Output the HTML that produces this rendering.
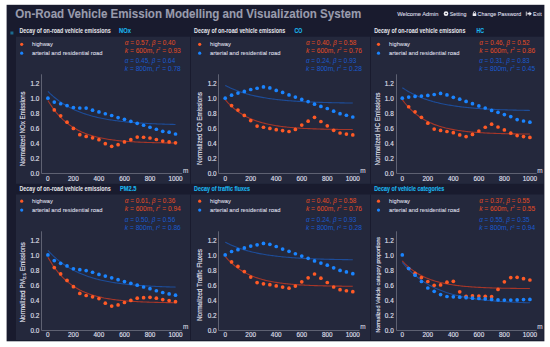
<!DOCTYPE html>
<html><head><meta charset="utf-8"><style>
html,body{margin:0;padding:0;background:#fff;width:550px;height:347px;overflow:hidden}
svg{display:block}
text{font-family:"Liberation Sans",sans-serif}
</style></head><body>
<svg width="550" height="347" viewBox="0 0 550 347">
<rect x="0" y="0" width="550" height="347" fill="#ffffff"/>
<rect x="6.6" y="4.8" width="537.8" height="336.5" fill="#191b2e"/>
<text x="15.3" y="18.1" font-size="12" fill="#9a9cad" stroke="#9a9cad" stroke-width="0.1" font-weight="bold" textLength="346" lengthAdjust="spacingAndGlyphs">On-Road Vehicle Emission Modelling and Visualization System</text>
<text x="397.2" y="15.5" font-size="6.0" fill="#dedee6" stroke="#dedee6" stroke-width="0.1" textLength="41.3" lengthAdjust="spacingAndGlyphs">Welcome Admin</text>
<circle cx="446" cy="13.7" r="2.35" fill="#ececf2"/><ellipse cx="446.1" cy="13.6" rx="0.9" ry="0.6" fill="#191b2e"/>
<text x="449.8" y="15.5" font-size="6.0" fill="#dedee6" stroke="#dedee6" stroke-width="0.1" textLength="16.7" lengthAdjust="spacingAndGlyphs">Setting</text>
<path d="M473.5 13.4 V12.6 a1.0 1.0 0 0 1 2.0 0 V13.4" stroke="#ececf2" stroke-width="0.8" fill="none"/><rect x="472.7" y="13.3" width="3.6" height="2.7" rx="0.3" fill="#ececf2"/>
<text x="477.6" y="15.5" font-size="6.0" fill="#dedee6" stroke="#dedee6" stroke-width="0.1" textLength="43.6" lengthAdjust="spacingAndGlyphs">Change Password</text>
<path d="M526.3 11.6 v4.2" stroke="#ececf2" stroke-width="0.8"/><path d="M527.4 12.8 h2 v-1.3 l2.5 2.2 l-2.5 2.2 v-1.3 h-2 z" fill="#ececf2"/>
<text x="533" y="15.5" font-size="6.0" fill="#dedee6" stroke="#dedee6" stroke-width="0.1" textLength="8.7" lengthAdjust="spacingAndGlyphs">Exit</text>
<rect x="16" y="36.7" width="527.6" height="147.1" fill="#24283c"/>
<rect x="190" y="36.7" width="1" height="147.1" fill="#191b2e"/>
<rect x="370" y="36.7" width="1" height="147.1" fill="#191b2e"/>
<rect x="16" y="194.5" width="527.6" height="145.5" fill="#24283c"/>
<rect x="190" y="194.5" width="1" height="145.5" fill="#191b2e"/>
<rect x="370" y="194.5" width="1" height="145.5" fill="#191b2e"/>
<rect x="10.4" y="31.5" width="3" height="3" fill="#1b6b90"/>
<text x="19.5" y="33.2" font-size="6.4" fill="#e6e6ec" font-weight="bold" textLength="91.2" lengthAdjust="spacingAndGlyphs">Decay of on-road vehicle emissions</text>
<text x="119.1" y="33.2" font-size="6.4" fill="#1ab8ee" stroke="#1ab8ee" stroke-width="0.1" font-weight="bold" textLength="11.9" lengthAdjust="spacingAndGlyphs">NOx</text>
<circle cx="21.7" cy="44.3" r="1.6" fill="#ff5a26"/>
<circle cx="21.7" cy="53.2" r="1.6" fill="#1a84ff"/>
<text x="32.0" y="46.00" font-size="6.25" fill="#dedfe6" stroke="#dedfe6" stroke-width="0.08" textLength="20.8" lengthAdjust="spacingAndGlyphs">highway</text>
<text x="32.0" y="54.6" font-size="6.25" fill="#dedfe6" stroke="#dedfe6" stroke-width="0.08" textLength="70.4" lengthAdjust="spacingAndGlyphs">arterial and residential road</text>
<text x="124.8" y="44.6" font-size="6.9" fill="#e04b24" stroke="#e04b24" stroke-width="0.02" textLength="50.4" lengthAdjust="spacingAndGlyphs"><tspan font-style="italic">α</tspan> = 0.57, <tspan font-style="italic">β</tspan> = 0.40</text>
<text x="124.8" y="52.6" font-size="6.9" fill="#e04b24" stroke="#e04b24" stroke-width="0.02" textLength="56" lengthAdjust="spacingAndGlyphs"><tspan font-style="italic">k</tspan> = 600m, <tspan font-style="italic">r</tspan><tspan font-size="4.2" dy="-2.4">2</tspan><tspan dy="2.4"> = 0.93</tspan></text>
<text x="124.8" y="62.5" font-size="6.9" fill="#1a5acc" stroke="#1a5acc" stroke-width="0.02" textLength="50.4" lengthAdjust="spacingAndGlyphs"><tspan font-style="italic">α</tspan> = 0.45, <tspan font-style="italic">β</tspan> = 0.64</text>
<text x="124.8" y="70.6" font-size="6.9" fill="#1a5acc" stroke="#1a5acc" stroke-width="0.02" textLength="56" lengthAdjust="spacingAndGlyphs"><tspan font-style="italic">k</tspan> = 800m, <tspan font-style="italic">r</tspan><tspan font-size="4.2" dy="-2.4">2</tspan><tspan dy="2.4"> = 0.78</tspan></text>
<path d="M41.5 74.3 V173.5 H182.2" stroke="#5e6172" stroke-width="1" fill="none"/>
<text x="39.3" y="176.1" font-size="6.4" fill="#dedfe6" stroke="#dedfe6" stroke-width="0.16" text-anchor="end">0.0</text>
<text x="39.3" y="161.1" font-size="6.4" fill="#dedfe6" stroke="#dedfe6" stroke-width="0.16" text-anchor="end">0.2</text>
<text x="39.3" y="146.0" font-size="6.4" fill="#dedfe6" stroke="#dedfe6" stroke-width="0.16" text-anchor="end">0.4</text>
<text x="39.3" y="131.0" font-size="6.4" fill="#dedfe6" stroke="#dedfe6" stroke-width="0.16" text-anchor="end">0.6</text>
<text x="39.3" y="115.9" font-size="6.4" fill="#dedfe6" stroke="#dedfe6" stroke-width="0.16" text-anchor="end">0.8</text>
<text x="39.3" y="100.9" font-size="6.4" fill="#dedfe6" stroke="#dedfe6" stroke-width="0.16" text-anchor="end">1.0</text>
<text x="39.3" y="85.9" font-size="6.4" fill="#dedfe6" stroke="#dedfe6" stroke-width="0.16" text-anchor="end">1.2</text>
<text x="47.9" y="180.5" font-size="6.4" fill="#dedfe6" stroke="#dedfe6" stroke-width="0.16" text-anchor="middle">0</text>
<text x="73.4" y="180.5" font-size="6.4" fill="#dedfe6" stroke="#dedfe6" stroke-width="0.16" text-anchor="middle">200</text>
<text x="98.9" y="180.5" font-size="6.4" fill="#dedfe6" stroke="#dedfe6" stroke-width="0.16" text-anchor="middle">400</text>
<text x="124.5" y="180.5" font-size="6.4" fill="#dedfe6" stroke="#dedfe6" stroke-width="0.16" text-anchor="middle">600</text>
<text x="150.0" y="180.5" font-size="6.4" fill="#dedfe6" stroke="#dedfe6" stroke-width="0.16" text-anchor="middle">800</text>
<text x="175.5" y="180.5" font-size="6.4" fill="#dedfe6" stroke="#dedfe6" stroke-width="0.16" text-anchor="middle">1000</text>
<text x="182.9" y="172.7" font-size="6.6" fill="#dcdce4" stroke="#dcdce4" stroke-width="0.08" textLength="5.4" lengthAdjust="spacingAndGlyphs">m</text>
<text x="0" y="0" font-size="6.5" fill="#dedfe6" stroke="#dedfe6" stroke-width="0.16" textLength="75.0" lengthAdjust="spacingAndGlyphs" transform="translate(25.4,166.3) rotate(-90)">Normalized NOx Emissions</text>
<polyline points="47.90,100.46 49.18,102.55 50.45,104.54 51.73,106.43 53.00,108.23 54.28,109.94 55.56,111.57 56.83,113.11 58.11,114.59 59.38,115.99 60.66,117.32 61.94,118.59 63.21,119.80 64.49,120.94 65.76,122.03 67.04,123.07 68.32,124.06 69.59,125.00 70.87,125.89 72.14,126.74 73.42,127.55 74.70,128.32 75.97,129.05 77.25,129.75 78.52,130.41 79.80,131.04 81.08,131.64 82.35,132.21 83.63,132.75 84.90,133.27 86.18,133.76 87.46,134.22 88.73,134.67 90.01,135.09 91.28,135.49 92.56,135.87 93.84,136.23 95.11,136.58 96.39,136.91 97.66,137.22 98.94,137.52 100.22,137.80 101.49,138.07 102.77,138.33 104.04,138.57 105.32,138.80 106.60,139.02 107.87,139.23 109.15,139.43 110.42,139.62 111.70,139.80 112.98,139.97 114.25,140.14 115.53,140.29 116.80,140.44 118.08,140.58 119.36,140.71 120.63,140.84 121.91,140.96 123.18,141.08 124.46,141.19 125.74,141.29 127.01,141.39 128.29,141.48 129.56,141.57 130.84,141.66 132.12,141.74 133.39,141.82 134.67,141.89 135.94,141.96 137.22,142.03 138.50,142.09 139.77,142.15 141.05,142.21 142.32,142.26 143.60,142.31 144.88,142.36 146.15,142.41 147.43,142.45 148.70,142.49 149.98,142.53 151.26,142.57 152.53,142.61 153.81,142.64 155.08,142.68 156.36,142.71 157.64,142.74 158.91,142.77 160.19,142.79 161.46,142.82 162.74,142.84 164.02,142.87 165.29,142.89 166.57,142.91 167.84,142.93 169.12,142.95 170.40,142.97 171.67,142.98 172.95,143.00 174.22,143.02 175.50,143.03" stroke="#a63628" stroke-width="1.1" fill="none"/>
<polyline points="47.90,91.43 49.18,92.68 50.45,93.88 51.73,95.03 53.00,96.15 54.28,97.22 55.56,98.25 56.83,99.24 58.11,100.20 59.38,101.13 60.66,102.01 61.94,102.87 63.21,103.69 64.49,104.49 65.76,105.25 67.04,105.99 68.32,106.70 69.59,107.38 70.87,108.04 72.14,108.68 73.42,109.29 74.70,109.88 75.97,110.44 77.25,110.99 78.52,111.51 79.80,112.02 81.08,112.51 82.35,112.98 83.63,113.43 84.90,113.87 86.18,114.29 87.46,114.69 88.73,115.08 90.01,115.45 91.28,115.82 92.56,116.16 93.84,116.50 95.11,116.82 96.39,117.13 97.66,117.43 98.94,117.72 100.22,118.00 101.49,118.27 102.77,118.52 104.04,118.77 105.32,119.01 106.60,119.24 107.87,119.46 109.15,119.68 110.42,119.88 111.70,120.08 112.98,120.27 114.25,120.46 115.53,120.63 116.80,120.81 118.08,120.97 119.36,121.13 120.63,121.28 121.91,121.43 123.18,121.57 124.46,121.71 125.74,121.84 127.01,121.96 128.29,122.08 129.56,122.20 130.84,122.32 132.12,122.42 133.39,122.53 134.67,122.63 135.94,122.73 137.22,122.82 138.50,122.91 139.77,123.00 141.05,123.08 142.32,123.16 143.60,123.24 144.88,123.31 146.15,123.39 147.43,123.46 148.70,123.52 149.98,123.59 151.26,123.65 152.53,123.71 153.81,123.77 155.08,123.82 156.36,123.88 157.64,123.93 158.91,123.98 160.19,124.02 161.46,124.07 162.74,124.11 164.02,124.16 165.29,124.20 166.57,124.24 167.84,124.28 169.12,124.31 170.40,124.35 171.67,124.38 172.95,124.41 174.22,124.45 175.50,124.48" stroke="#1d4c98" stroke-width="1.1" fill="none"/>
<circle cx="54.28" cy="109.93" r="1.85" fill="#ff5a26"/>
<circle cx="60.66" cy="115.87" r="1.85" fill="#ff5a26"/>
<circle cx="67.04" cy="122.19" r="1.85" fill="#ff5a26"/>
<circle cx="73.42" cy="128.43" r="1.85" fill="#ff5a26"/>
<circle cx="79.80" cy="134.67" r="1.85" fill="#ff5a26"/>
<circle cx="86.18" cy="136.40" r="1.85" fill="#ff5a26"/>
<circle cx="92.56" cy="137.83" r="1.85" fill="#ff5a26"/>
<circle cx="98.94" cy="139.71" r="1.85" fill="#ff5a26"/>
<circle cx="105.32" cy="143.70" r="1.85" fill="#ff5a26"/>
<circle cx="111.70" cy="146.33" r="1.85" fill="#ff5a26"/>
<circle cx="118.08" cy="144.67" r="1.85" fill="#ff5a26"/>
<circle cx="124.46" cy="141.89" r="1.85" fill="#ff5a26"/>
<circle cx="130.84" cy="139.71" r="1.85" fill="#ff5a26"/>
<circle cx="137.22" cy="137.08" r="1.85" fill="#ff5a26"/>
<circle cx="143.60" cy="137.23" r="1.85" fill="#ff5a26"/>
<circle cx="149.98" cy="137.98" r="1.85" fill="#ff5a26"/>
<circle cx="156.36" cy="139.48" r="1.85" fill="#ff5a26"/>
<circle cx="162.74" cy="141.06" r="1.85" fill="#ff5a26"/>
<circle cx="169.12" cy="141.89" r="1.85" fill="#ff5a26"/>
<circle cx="175.50" cy="142.79" r="1.85" fill="#ff5a26"/>
<circle cx="47.90" cy="98.20" r="1.85" fill="#1a84ff"/>
<circle cx="54.28" cy="102.04" r="1.85" fill="#1a84ff"/>
<circle cx="60.66" cy="103.76" r="1.85" fill="#1a84ff"/>
<circle cx="67.04" cy="105.57" r="1.85" fill="#1a84ff"/>
<circle cx="73.42" cy="107.52" r="1.85" fill="#1a84ff"/>
<circle cx="79.80" cy="107.98" r="1.85" fill="#1a84ff"/>
<circle cx="86.18" cy="108.05" r="1.85" fill="#1a84ff"/>
<circle cx="92.56" cy="110.16" r="1.85" fill="#1a84ff"/>
<circle cx="98.94" cy="111.89" r="1.85" fill="#1a84ff"/>
<circle cx="105.32" cy="113.77" r="1.85" fill="#1a84ff"/>
<circle cx="111.70" cy="115.50" r="1.85" fill="#1a84ff"/>
<circle cx="118.08" cy="117.53" r="1.85" fill="#1a84ff"/>
<circle cx="124.46" cy="119.33" r="1.85" fill="#1a84ff"/>
<circle cx="130.84" cy="121.29" r="1.85" fill="#1a84ff"/>
<circle cx="137.22" cy="123.32" r="1.85" fill="#1a84ff"/>
<circle cx="143.60" cy="125.27" r="1.85" fill="#1a84ff"/>
<circle cx="149.98" cy="127.23" r="1.85" fill="#1a84ff"/>
<circle cx="156.36" cy="129.26" r="1.85" fill="#1a84ff"/>
<circle cx="162.74" cy="131.36" r="1.85" fill="#1a84ff"/>
<circle cx="169.12" cy="132.19" r="1.85" fill="#1a84ff"/>
<circle cx="175.50" cy="134.00" r="1.85" fill="#1a84ff"/>
<text x="194.1" y="33.2" font-size="6.4" fill="#e6e6ec" font-weight="bold" textLength="91.2" lengthAdjust="spacingAndGlyphs">Decay of on-road vehicle emissions</text>
<text x="294.5" y="33.2" font-size="6.4" fill="#1ab8ee" stroke="#1ab8ee" stroke-width="0.1" font-weight="bold" textLength="7.8" lengthAdjust="spacingAndGlyphs">CO</text>
<circle cx="199.7" cy="44.3" r="1.6" fill="#ff5a26"/>
<circle cx="199.7" cy="53.2" r="1.6" fill="#1a84ff"/>
<text x="210.0" y="46.00" font-size="6.25" fill="#dedfe6" stroke="#dedfe6" stroke-width="0.08" textLength="20.8" lengthAdjust="spacingAndGlyphs">highway</text>
<text x="210.0" y="54.6" font-size="6.25" fill="#dedfe6" stroke="#dedfe6" stroke-width="0.08" textLength="70.4" lengthAdjust="spacingAndGlyphs">arterial and residential road</text>
<text x="305.9" y="44.6" font-size="6.9" fill="#e04b24" stroke="#e04b24" stroke-width="0.02" textLength="50.4" lengthAdjust="spacingAndGlyphs"><tspan font-style="italic">α</tspan> = 0.40, <tspan font-style="italic">β</tspan> = 0.58</text>
<text x="305.9" y="52.6" font-size="6.9" fill="#e04b24" stroke="#e04b24" stroke-width="0.02" textLength="56" lengthAdjust="spacingAndGlyphs"><tspan font-style="italic">k</tspan> = 600m, <tspan font-style="italic">r</tspan><tspan font-size="4.2" dy="-2.4">2</tspan><tspan dy="2.4"> = 0.76</tspan></text>
<text x="305.9" y="62.5" font-size="6.9" fill="#1a5acc" stroke="#1a5acc" stroke-width="0.02" textLength="50.4" lengthAdjust="spacingAndGlyphs"><tspan font-style="italic">α</tspan> = 0.24, <tspan font-style="italic">β</tspan> = 0.93</text>
<text x="305.9" y="70.6" font-size="6.9" fill="#1a5acc" stroke="#1a5acc" stroke-width="0.02" textLength="56" lengthAdjust="spacingAndGlyphs"><tspan font-style="italic">k</tspan> = 800m, <tspan font-style="italic">r</tspan><tspan font-size="4.2" dy="-2.4">2</tspan><tspan dy="2.4"> = 0.28</tspan></text>
<path d="M218.5 74.3 V173.5 H359.5" stroke="#5e6172" stroke-width="1" fill="none"/>
<text x="216.6" y="176.1" font-size="6.4" fill="#dedfe6" stroke="#dedfe6" stroke-width="0.16" text-anchor="end">0.0</text>
<text x="216.6" y="161.1" font-size="6.4" fill="#dedfe6" stroke="#dedfe6" stroke-width="0.16" text-anchor="end">0.2</text>
<text x="216.6" y="146.0" font-size="6.4" fill="#dedfe6" stroke="#dedfe6" stroke-width="0.16" text-anchor="end">0.4</text>
<text x="216.6" y="131.0" font-size="6.4" fill="#dedfe6" stroke="#dedfe6" stroke-width="0.16" text-anchor="end">0.6</text>
<text x="216.6" y="115.9" font-size="6.4" fill="#dedfe6" stroke="#dedfe6" stroke-width="0.16" text-anchor="end">0.8</text>
<text x="216.6" y="100.9" font-size="6.4" fill="#dedfe6" stroke="#dedfe6" stroke-width="0.16" text-anchor="end">1.0</text>
<text x="216.6" y="85.9" font-size="6.4" fill="#dedfe6" stroke="#dedfe6" stroke-width="0.16" text-anchor="end">1.2</text>
<text x="225.2" y="180.5" font-size="6.4" fill="#dedfe6" stroke="#dedfe6" stroke-width="0.16" text-anchor="middle">0</text>
<text x="250.7" y="180.5" font-size="6.4" fill="#dedfe6" stroke="#dedfe6" stroke-width="0.16" text-anchor="middle">200</text>
<text x="276.2" y="180.5" font-size="6.4" fill="#dedfe6" stroke="#dedfe6" stroke-width="0.16" text-anchor="middle">400</text>
<text x="301.8" y="180.5" font-size="6.4" fill="#dedfe6" stroke="#dedfe6" stroke-width="0.16" text-anchor="middle">600</text>
<text x="327.3" y="180.5" font-size="6.4" fill="#dedfe6" stroke="#dedfe6" stroke-width="0.16" text-anchor="middle">800</text>
<text x="352.8" y="180.5" font-size="6.4" fill="#dedfe6" stroke="#dedfe6" stroke-width="0.16" text-anchor="middle">1000</text>
<text x="360.2" y="172.7" font-size="6.6" fill="#dcdce4" stroke="#dcdce4" stroke-width="0.08" textLength="5.4" lengthAdjust="spacingAndGlyphs">m</text>
<text x="0" y="0" font-size="6.5" fill="#dedfe6" stroke="#dedfe6" stroke-width="0.16" textLength="72.9" lengthAdjust="spacingAndGlyphs" transform="translate(202.2,165.1) rotate(-90)">Normalized CO Emissions</text>
<polyline points="225.20,99.70 226.48,101.17 227.75,102.57 229.03,103.89 230.30,105.16 231.58,106.36 232.86,107.50 234.13,108.59 235.41,109.62 236.68,110.60 237.96,111.54 239.24,112.43 240.51,113.28 241.79,114.08 243.06,114.85 244.34,115.58 245.62,116.27 246.89,116.93 248.17,117.55 249.44,118.15 250.72,118.72 252.00,119.26 253.27,119.77 254.55,120.26 255.82,120.72 257.10,121.17 258.38,121.59 259.65,121.99 260.93,122.37 262.20,122.73 263.48,123.07 264.76,123.40 266.03,123.71 267.31,124.01 268.58,124.29 269.86,124.56 271.14,124.81 272.41,125.05 273.69,125.28 274.96,125.50 276.24,125.71 277.52,125.91 278.79,126.10 280.07,126.28 281.34,126.45 282.62,126.61 283.90,126.77 285.17,126.92 286.45,127.06 287.72,127.19 289.00,127.31 290.28,127.44 291.55,127.55 292.83,127.66 294.10,127.76 295.38,127.86 296.66,127.95 297.93,128.04 299.21,128.13 300.48,128.21 301.76,128.29 303.04,128.36 304.31,128.43 305.59,128.50 306.86,128.56 308.14,128.62 309.42,128.67 310.69,128.73 311.97,128.78 313.24,128.83 314.52,128.88 315.80,128.92 317.07,128.96 318.35,129.00 319.62,129.04 320.90,129.08 322.18,129.11 323.45,129.14 324.73,129.18 326.00,129.20 327.28,129.23 328.56,129.26 329.83,129.29 331.11,129.31 332.38,129.33 333.66,129.35 334.94,129.38 336.21,129.40 337.49,129.41 338.76,129.43 340.04,129.45 341.32,129.47 342.59,129.48 343.87,129.50 345.14,129.51 346.42,129.52 347.70,129.54 348.97,129.55 350.25,129.56 351.52,129.57 352.80,129.58" stroke="#a63628" stroke-width="1.1" fill="none"/>
<polyline points="225.20,85.42 226.48,86.08 227.75,86.72 229.03,87.34 230.30,87.93 231.58,88.50 232.86,89.05 234.13,89.58 235.41,90.09 236.68,90.59 237.96,91.06 239.24,91.52 240.51,91.96 241.79,92.38 243.06,92.79 244.34,93.18 245.62,93.56 246.89,93.92 248.17,94.27 249.44,94.61 250.72,94.94 252.00,95.25 253.27,95.55 254.55,95.85 255.82,96.13 257.10,96.40 258.38,96.66 259.65,96.91 260.93,97.15 262.20,97.38 263.48,97.60 264.76,97.82 266.03,98.03 267.31,98.23 268.58,98.42 269.86,98.61 271.14,98.79 272.41,98.96 273.69,99.12 274.96,99.28 276.24,99.44 277.52,99.59 278.79,99.73 280.07,99.87 281.34,100.00 282.62,100.13 283.90,100.25 285.17,100.37 286.45,100.48 287.72,100.59 289.00,100.70 290.28,100.80 291.55,100.90 292.83,100.99 294.10,101.08 295.38,101.17 296.66,101.25 297.93,101.34 299.21,101.41 300.48,101.49 301.76,101.56 303.04,101.63 304.31,101.70 305.59,101.76 306.86,101.83 308.14,101.89 309.42,101.95 310.69,102.00 311.97,102.05 313.24,102.11 314.52,102.16 315.80,102.20 317.07,102.25 318.35,102.30 319.62,102.34 320.90,102.38 322.18,102.42 323.45,102.46 324.73,102.50 326.00,102.53 327.28,102.57 328.56,102.60 329.83,102.63 331.11,102.66 332.38,102.69 333.66,102.72 334.94,102.75 336.21,102.77 337.49,102.80 338.76,102.82 340.04,102.85 341.32,102.87 342.59,102.89 343.87,102.91 345.14,102.93 346.42,102.95 347.70,102.97 348.97,102.99 350.25,103.01 351.52,103.02 352.80,103.04" stroke="#1d4c98" stroke-width="1.1" fill="none"/>
<circle cx="231.58" cy="105.57" r="1.85" fill="#ff5a26"/>
<circle cx="237.96" cy="110.08" r="1.85" fill="#ff5a26"/>
<circle cx="244.34" cy="115.42" r="1.85" fill="#ff5a26"/>
<circle cx="250.72" cy="120.61" r="1.85" fill="#ff5a26"/>
<circle cx="257.10" cy="126.10" r="1.85" fill="#ff5a26"/>
<circle cx="263.48" cy="127.23" r="1.85" fill="#ff5a26"/>
<circle cx="269.86" cy="128.43" r="1.85" fill="#ff5a26"/>
<circle cx="276.24" cy="129.63" r="1.85" fill="#ff5a26"/>
<circle cx="282.62" cy="130.61" r="1.85" fill="#ff5a26"/>
<circle cx="289.00" cy="131.51" r="1.85" fill="#ff5a26"/>
<circle cx="295.38" cy="129.41" r="1.85" fill="#ff5a26"/>
<circle cx="301.76" cy="125.12" r="1.85" fill="#ff5a26"/>
<circle cx="308.14" cy="121.14" r="1.85" fill="#ff5a26"/>
<circle cx="314.52" cy="117.30" r="1.85" fill="#ff5a26"/>
<circle cx="320.90" cy="121.51" r="1.85" fill="#ff5a26"/>
<circle cx="327.28" cy="125.80" r="1.85" fill="#ff5a26"/>
<circle cx="333.66" cy="130.31" r="1.85" fill="#ff5a26"/>
<circle cx="340.04" cy="133.02" r="1.85" fill="#ff5a26"/>
<circle cx="346.42" cy="134.07" r="1.85" fill="#ff5a26"/>
<circle cx="352.80" cy="134.97" r="1.85" fill="#ff5a26"/>
<circle cx="225.20" cy="98.20" r="1.85" fill="#1a84ff"/>
<circle cx="231.58" cy="95.19" r="1.85" fill="#1a84ff"/>
<circle cx="237.96" cy="93.09" r="1.85" fill="#1a84ff"/>
<circle cx="244.34" cy="91.43" r="1.85" fill="#1a84ff"/>
<circle cx="250.72" cy="89.48" r="1.85" fill="#1a84ff"/>
<circle cx="257.10" cy="88.27" r="1.85" fill="#1a84ff"/>
<circle cx="263.48" cy="86.92" r="1.85" fill="#1a84ff"/>
<circle cx="269.86" cy="87.90" r="1.85" fill="#1a84ff"/>
<circle cx="276.24" cy="90.38" r="1.85" fill="#1a84ff"/>
<circle cx="282.62" cy="92.41" r="1.85" fill="#1a84ff"/>
<circle cx="289.00" cy="94.89" r="1.85" fill="#1a84ff"/>
<circle cx="295.38" cy="97.07" r="1.85" fill="#1a84ff"/>
<circle cx="301.76" cy="99.40" r="1.85" fill="#1a84ff"/>
<circle cx="308.14" cy="101.58" r="1.85" fill="#1a84ff"/>
<circle cx="314.52" cy="104.22" r="1.85" fill="#1a84ff"/>
<circle cx="320.90" cy="106.40" r="1.85" fill="#1a84ff"/>
<circle cx="327.28" cy="108.50" r="1.85" fill="#1a84ff"/>
<circle cx="333.66" cy="111.13" r="1.85" fill="#1a84ff"/>
<circle cx="340.04" cy="113.69" r="1.85" fill="#1a84ff"/>
<circle cx="346.42" cy="115.27" r="1.85" fill="#1a84ff"/>
<circle cx="352.80" cy="117.00" r="1.85" fill="#1a84ff"/>
<text x="374.2" y="33.2" font-size="6.4" fill="#e6e6ec" font-weight="bold" textLength="91.2" lengthAdjust="spacingAndGlyphs">Decay of on-road vehicle emissions</text>
<text x="476.6" y="33.2" font-size="6.4" fill="#1ab8ee" stroke="#1ab8ee" stroke-width="0.1" font-weight="bold" textLength="7.4" lengthAdjust="spacingAndGlyphs">HC</text>
<circle cx="378.5" cy="44.3" r="1.6" fill="#ff5a26"/>
<circle cx="378.5" cy="53.2" r="1.6" fill="#1a84ff"/>
<text x="389.1" y="46.00" font-size="6.25" fill="#dedfe6" stroke="#dedfe6" stroke-width="0.08" textLength="20.8" lengthAdjust="spacingAndGlyphs">highway</text>
<text x="389.1" y="54.6" font-size="6.25" fill="#dedfe6" stroke="#dedfe6" stroke-width="0.08" textLength="70.4" lengthAdjust="spacingAndGlyphs">arterial and residential road</text>
<text x="479.2" y="44.6" font-size="6.9" fill="#e04b24" stroke="#e04b24" stroke-width="0.02" textLength="50.4" lengthAdjust="spacingAndGlyphs"><tspan font-style="italic">α</tspan> = 0.46, <tspan font-style="italic">β</tspan> = 0.52</text>
<text x="479.2" y="52.6" font-size="6.9" fill="#e04b24" stroke="#e04b24" stroke-width="0.02" textLength="56" lengthAdjust="spacingAndGlyphs"><tspan font-style="italic">k</tspan> = 600m, <tspan font-style="italic">r</tspan><tspan font-size="4.2" dy="-2.4">2</tspan><tspan dy="2.4"> = 0.86</tspan></text>
<text x="479.2" y="62.5" font-size="6.9" fill="#1a5acc" stroke="#1a5acc" stroke-width="0.02" textLength="50.4" lengthAdjust="spacingAndGlyphs"><tspan font-style="italic">α</tspan> = 0.31, <tspan font-style="italic">β</tspan> = 0.83</text>
<text x="479.2" y="70.6" font-size="6.9" fill="#1a5acc" stroke="#1a5acc" stroke-width="0.02" textLength="56" lengthAdjust="spacingAndGlyphs"><tspan font-style="italic">k</tspan> = 800m, <tspan font-style="italic">r</tspan><tspan font-size="4.2" dy="-2.4">2</tspan><tspan dy="2.4"> = 0.45</tspan></text>
<path d="M396.5 74.3 V173.5 H536.6" stroke="#5e6172" stroke-width="1" fill="none"/>
<text x="393.7" y="176.1" font-size="6.4" fill="#dedfe6" stroke="#dedfe6" stroke-width="0.16" text-anchor="end">0.0</text>
<text x="393.7" y="161.1" font-size="6.4" fill="#dedfe6" stroke="#dedfe6" stroke-width="0.16" text-anchor="end">0.2</text>
<text x="393.7" y="146.0" font-size="6.4" fill="#dedfe6" stroke="#dedfe6" stroke-width="0.16" text-anchor="end">0.4</text>
<text x="393.7" y="131.0" font-size="6.4" fill="#dedfe6" stroke="#dedfe6" stroke-width="0.16" text-anchor="end">0.6</text>
<text x="393.7" y="115.9" font-size="6.4" fill="#dedfe6" stroke="#dedfe6" stroke-width="0.16" text-anchor="end">0.8</text>
<text x="393.7" y="100.9" font-size="6.4" fill="#dedfe6" stroke="#dedfe6" stroke-width="0.16" text-anchor="end">1.0</text>
<text x="393.7" y="85.9" font-size="6.4" fill="#dedfe6" stroke="#dedfe6" stroke-width="0.16" text-anchor="end">1.2</text>
<text x="402.3" y="180.5" font-size="6.4" fill="#dedfe6" stroke="#dedfe6" stroke-width="0.16" text-anchor="middle">0</text>
<text x="427.8" y="180.5" font-size="6.4" fill="#dedfe6" stroke="#dedfe6" stroke-width="0.16" text-anchor="middle">200</text>
<text x="453.3" y="180.5" font-size="6.4" fill="#dedfe6" stroke="#dedfe6" stroke-width="0.16" text-anchor="middle">400</text>
<text x="478.9" y="180.5" font-size="6.4" fill="#dedfe6" stroke="#dedfe6" stroke-width="0.16" text-anchor="middle">600</text>
<text x="504.4" y="180.5" font-size="6.4" fill="#dedfe6" stroke="#dedfe6" stroke-width="0.16" text-anchor="middle">800</text>
<text x="529.9" y="180.5" font-size="6.4" fill="#dedfe6" stroke="#dedfe6" stroke-width="0.16" text-anchor="middle">1000</text>
<text x="537.3" y="172.7" font-size="6.6" fill="#dcdce4" stroke="#dcdce4" stroke-width="0.08" textLength="5.4" lengthAdjust="spacingAndGlyphs">m</text>
<text x="0" y="0" font-size="6.5" fill="#dedfe6" stroke="#dedfe6" stroke-width="0.16" textLength="73.0" lengthAdjust="spacingAndGlyphs" transform="translate(380.3,165.5) rotate(-90)">Normalized HC Emissions</text>
<polyline points="402.30,99.70 403.58,101.39 404.85,103.00 406.13,104.52 407.40,105.97 408.68,107.36 409.96,108.67 411.23,109.92 412.51,111.11 413.78,112.24 415.06,113.31 416.34,114.34 417.61,115.31 418.89,116.24 420.16,117.12 421.44,117.96 422.72,118.75 423.99,119.51 425.27,120.23 426.54,120.92 427.82,121.57 429.10,122.19 430.37,122.78 431.65,123.34 432.92,123.88 434.20,124.39 435.48,124.87 436.75,125.33 438.03,125.77 439.30,126.18 440.58,126.58 441.86,126.95 443.13,127.31 444.41,127.65 445.68,127.98 446.96,128.28 448.24,128.58 449.51,128.86 450.79,129.12 452.06,129.37 453.34,129.61 454.62,129.84 455.89,130.06 457.17,130.27 458.44,130.46 459.72,130.65 461.00,130.83 462.27,131.00 463.55,131.16 464.82,131.31 466.10,131.46 467.38,131.59 468.65,131.73 469.93,131.85 471.20,131.97 472.48,132.08 473.76,132.19 475.03,132.30 476.31,132.39 477.58,132.49 478.86,132.57 480.14,132.66 481.41,132.74 482.69,132.81 483.96,132.89 485.24,132.95 486.52,133.02 487.79,133.08 489.07,133.14 490.34,133.20 491.62,133.25 492.90,133.30 494.17,133.35 495.45,133.40 496.72,133.44 498.00,133.48 499.28,133.52 500.55,133.56 501.83,133.60 503.10,133.63 504.38,133.66 505.66,133.69 506.93,133.72 508.21,133.75 509.48,133.78 510.76,133.80 512.04,133.83 513.31,133.85 514.59,133.87 515.86,133.89 517.14,133.91 518.42,133.93 519.69,133.95 520.97,133.97 522.24,133.98 523.52,134.00 524.80,134.01 526.07,134.03 527.35,134.04 528.62,134.05 529.90,134.06" stroke="#a63628" stroke-width="1.1" fill="none"/>
<polyline points="402.30,87.67 403.58,88.53 404.85,89.36 406.13,90.15 407.40,90.92 408.68,91.66 409.96,92.37 411.23,93.05 412.51,93.71 413.78,94.35 415.06,94.96 416.34,95.55 417.61,96.12 418.89,96.67 420.16,97.19 421.44,97.70 422.72,98.19 423.99,98.66 425.27,99.11 426.54,99.55 427.82,99.97 429.10,100.38 430.37,100.77 431.65,101.14 432.92,101.51 434.20,101.85 435.48,102.19 436.75,102.51 438.03,102.83 439.30,103.13 440.58,103.42 441.86,103.69 443.13,103.96 444.41,104.22 445.68,104.47 446.96,104.71 448.24,104.94 449.51,105.16 450.79,105.38 452.06,105.58 453.34,105.78 454.62,105.97 455.89,106.16 457.17,106.34 458.44,106.51 459.72,106.67 461.00,106.83 462.27,106.98 463.55,107.13 464.82,107.27 466.10,107.41 467.38,107.54 468.65,107.67 469.93,107.79 471.20,107.91 472.48,108.02 473.76,108.13 475.03,108.23 476.31,108.34 477.58,108.43 478.86,108.53 480.14,108.62 481.41,108.70 482.69,108.79 483.96,108.87 485.24,108.95 486.52,109.02 487.79,109.09 489.07,109.16 490.34,109.23 491.62,109.30 492.90,109.36 494.17,109.42 495.45,109.47 496.72,109.53 498.00,109.58 499.28,109.64 500.55,109.69 501.83,109.73 503.10,109.78 504.38,109.82 505.66,109.87 506.93,109.91 508.21,109.95 509.48,109.99 510.76,110.02 512.04,110.06 513.31,110.09 514.59,110.12 515.86,110.16 517.14,110.19 518.42,110.22 519.69,110.24 520.97,110.27 522.24,110.30 523.52,110.32 524.80,110.35 526.07,110.37 527.35,110.39 528.62,110.41 529.90,110.44" stroke="#1d4c98" stroke-width="1.1" fill="none"/>
<circle cx="408.68" cy="106.77" r="1.85" fill="#ff5a26"/>
<circle cx="415.06" cy="111.81" r="1.85" fill="#ff5a26"/>
<circle cx="421.44" cy="117.30" r="1.85" fill="#ff5a26"/>
<circle cx="427.82" cy="123.17" r="1.85" fill="#ff5a26"/>
<circle cx="434.20" cy="129.11" r="1.85" fill="#ff5a26"/>
<circle cx="440.58" cy="130.46" r="1.85" fill="#ff5a26"/>
<circle cx="446.96" cy="131.51" r="1.85" fill="#ff5a26"/>
<circle cx="453.34" cy="132.72" r="1.85" fill="#ff5a26"/>
<circle cx="459.72" cy="134.97" r="1.85" fill="#ff5a26"/>
<circle cx="466.10" cy="136.55" r="1.85" fill="#ff5a26"/>
<circle cx="472.48" cy="134.45" r="1.85" fill="#ff5a26"/>
<circle cx="478.86" cy="130.99" r="1.85" fill="#ff5a26"/>
<circle cx="485.24" cy="127.23" r="1.85" fill="#ff5a26"/>
<circle cx="491.62" cy="124.22" r="1.85" fill="#ff5a26"/>
<circle cx="498.00" cy="127.00" r="1.85" fill="#ff5a26"/>
<circle cx="504.38" cy="129.93" r="1.85" fill="#ff5a26"/>
<circle cx="510.76" cy="133.17" r="1.85" fill="#ff5a26"/>
<circle cx="517.14" cy="135.57" r="1.85" fill="#ff5a26"/>
<circle cx="523.52" cy="136.55" r="1.85" fill="#ff5a26"/>
<circle cx="529.90" cy="137.38" r="1.85" fill="#ff5a26"/>
<circle cx="402.30" cy="98.20" r="1.85" fill="#1a84ff"/>
<circle cx="408.68" cy="97.07" r="1.85" fill="#1a84ff"/>
<circle cx="415.06" cy="96.40" r="1.85" fill="#1a84ff"/>
<circle cx="421.44" cy="96.09" r="1.85" fill="#1a84ff"/>
<circle cx="427.82" cy="95.42" r="1.85" fill="#1a84ff"/>
<circle cx="434.20" cy="94.52" r="1.85" fill="#1a84ff"/>
<circle cx="440.58" cy="93.46" r="1.85" fill="#1a84ff"/>
<circle cx="446.96" cy="94.97" r="1.85" fill="#1a84ff"/>
<circle cx="453.34" cy="97.30" r="1.85" fill="#1a84ff"/>
<circle cx="459.72" cy="99.18" r="1.85" fill="#1a84ff"/>
<circle cx="466.10" cy="101.43" r="1.85" fill="#1a84ff"/>
<circle cx="472.48" cy="103.69" r="1.85" fill="#1a84ff"/>
<circle cx="478.86" cy="105.95" r="1.85" fill="#1a84ff"/>
<circle cx="485.24" cy="107.98" r="1.85" fill="#1a84ff"/>
<circle cx="491.62" cy="110.38" r="1.85" fill="#1a84ff"/>
<circle cx="498.00" cy="112.34" r="1.85" fill="#1a84ff"/>
<circle cx="504.38" cy="114.59" r="1.85" fill="#1a84ff"/>
<circle cx="510.76" cy="116.62" r="1.85" fill="#1a84ff"/>
<circle cx="517.14" cy="119.56" r="1.85" fill="#1a84ff"/>
<circle cx="523.52" cy="120.99" r="1.85" fill="#1a84ff"/>
<circle cx="529.90" cy="122.19" r="1.85" fill="#1a84ff"/>
<text x="19.5" y="191.2" font-size="6.4" fill="#e6e6ec" font-weight="bold" textLength="91.2" lengthAdjust="spacingAndGlyphs">Decay of on-road vehicle emissions</text>
<text x="120" y="191.2" font-size="6.4" fill="#1ab8ee" stroke="#1ab8ee" stroke-width="0.1" font-weight="bold" textLength="16.4" lengthAdjust="spacingAndGlyphs">PM2.5</text>
<circle cx="21.7" cy="201.2" r="1.6" fill="#ff5a26"/>
<circle cx="21.7" cy="210.1" r="1.6" fill="#1a84ff"/>
<text x="32.0" y="202.90" font-size="6.25" fill="#dedfe6" stroke="#dedfe6" stroke-width="0.08" textLength="20.8" lengthAdjust="spacingAndGlyphs">highway</text>
<text x="32.0" y="211.5" font-size="6.25" fill="#dedfe6" stroke="#dedfe6" stroke-width="0.08" textLength="70.4" lengthAdjust="spacingAndGlyphs">arterial and residential road</text>
<text x="124.8" y="202.5" font-size="6.9" fill="#e04b24" stroke="#e04b24" stroke-width="0.02" textLength="50.4" lengthAdjust="spacingAndGlyphs"><tspan font-style="italic">α</tspan> = 0.61, <tspan font-style="italic">β</tspan> = 0.36</text>
<text x="124.8" y="210.6" font-size="6.9" fill="#e04b24" stroke="#e04b24" stroke-width="0.02" textLength="56" lengthAdjust="spacingAndGlyphs"><tspan font-style="italic">k</tspan> = 600m, <tspan font-style="italic">r</tspan><tspan font-size="4.2" dy="-2.4">2</tspan><tspan dy="2.4"> = 0.94</tspan></text>
<text x="124.8" y="222.0" font-size="6.9" fill="#1a5acc" stroke="#1a5acc" stroke-width="0.02" textLength="50.4" lengthAdjust="spacingAndGlyphs"><tspan font-style="italic">α</tspan> = 0.50, <tspan font-style="italic">β</tspan> = 0.56</text>
<text x="124.8" y="230.0" font-size="6.9" fill="#1a5acc" stroke="#1a5acc" stroke-width="0.02" textLength="56" lengthAdjust="spacingAndGlyphs"><tspan font-style="italic">k</tspan> = 800m, <tspan font-style="italic">r</tspan><tspan font-size="4.2" dy="-2.4">2</tspan><tspan dy="2.4"> = 0.86</tspan></text>
<path d="M41.5 231.3 V330.5 H182.2" stroke="#5e6172" stroke-width="1" fill="none"/>
<text x="39.3" y="332.8" font-size="6.4" fill="#dedfe6" stroke="#dedfe6" stroke-width="0.16" text-anchor="end">0.0</text>
<text x="39.3" y="317.8" font-size="6.4" fill="#dedfe6" stroke="#dedfe6" stroke-width="0.16" text-anchor="end">0.2</text>
<text x="39.3" y="302.7" font-size="6.4" fill="#dedfe6" stroke="#dedfe6" stroke-width="0.16" text-anchor="end">0.4</text>
<text x="39.3" y="287.7" font-size="6.4" fill="#dedfe6" stroke="#dedfe6" stroke-width="0.16" text-anchor="end">0.6</text>
<text x="39.3" y="272.6" font-size="6.4" fill="#dedfe6" stroke="#dedfe6" stroke-width="0.16" text-anchor="end">0.8</text>
<text x="39.3" y="257.6" font-size="6.4" fill="#dedfe6" stroke="#dedfe6" stroke-width="0.16" text-anchor="end">1.0</text>
<text x="39.3" y="242.6" font-size="6.4" fill="#dedfe6" stroke="#dedfe6" stroke-width="0.16" text-anchor="end">1.2</text>
<text x="47.9" y="337.2" font-size="6.4" fill="#dedfe6" stroke="#dedfe6" stroke-width="0.16" text-anchor="middle">0</text>
<text x="73.4" y="337.2" font-size="6.4" fill="#dedfe6" stroke="#dedfe6" stroke-width="0.16" text-anchor="middle">200</text>
<text x="98.9" y="337.2" font-size="6.4" fill="#dedfe6" stroke="#dedfe6" stroke-width="0.16" text-anchor="middle">400</text>
<text x="124.5" y="337.2" font-size="6.4" fill="#dedfe6" stroke="#dedfe6" stroke-width="0.16" text-anchor="middle">600</text>
<text x="150.0" y="337.2" font-size="6.4" fill="#dedfe6" stroke="#dedfe6" stroke-width="0.16" text-anchor="middle">800</text>
<text x="175.5" y="337.2" font-size="6.4" fill="#dedfe6" stroke="#dedfe6" stroke-width="0.16" text-anchor="middle">1000</text>
<text x="182.9" y="329.4" font-size="6.6" fill="#dcdce4" stroke="#dcdce4" stroke-width="0.08" textLength="5.4" lengthAdjust="spacingAndGlyphs">m</text>
<text x="0" y="0" font-size="6.5" fill="#dedfe6" stroke="#dedfe6" stroke-width="0.16" textLength="80.2" lengthAdjust="spacingAndGlyphs" transform="translate(25.4,322.5) rotate(-90)">Normalized PM<tspan font-size="4.4" dy="0.9">2.5</tspan><tspan dy="-0.9"> Emissions</tspan></text>
<polyline points="47.90,257.16 49.18,259.39 50.45,261.52 51.73,263.55 53.00,265.47 54.28,267.30 55.56,269.05 56.83,270.70 58.11,272.28 59.38,273.78 60.66,275.21 61.94,276.56 63.21,277.85 64.49,279.08 65.76,280.25 67.04,281.36 68.32,282.42 69.59,283.42 70.87,284.38 72.14,285.29 73.42,286.15 74.70,286.98 75.97,287.76 77.25,288.50 78.52,289.21 79.80,289.89 81.08,290.53 82.35,291.14 83.63,291.72 84.90,292.27 86.18,292.79 87.46,293.29 88.73,293.77 90.01,294.22 91.28,294.65 92.56,295.06 93.84,295.45 95.11,295.82 96.39,296.17 97.66,296.50 98.94,296.82 100.22,297.12 101.49,297.41 102.77,297.68 104.04,297.95 105.32,298.19 106.60,298.43 107.87,298.65 109.15,298.87 110.42,299.07 111.70,299.26 112.98,299.45 114.25,299.62 115.53,299.79 116.80,299.95 118.08,300.10 119.36,300.24 120.63,300.37 121.91,300.50 123.18,300.63 124.46,300.74 125.74,300.86 127.01,300.96 128.29,301.06 129.56,301.16 130.84,301.25 132.12,301.34 133.39,301.42 134.67,301.50 135.94,301.57 137.22,301.64 138.50,301.71 139.77,301.77 141.05,301.84 142.32,301.89 143.60,301.95 144.88,302.00 146.15,302.05 147.43,302.10 148.70,302.14 149.98,302.19 151.26,302.23 152.53,302.27 153.81,302.30 155.08,302.34 156.36,302.37 157.64,302.41 158.91,302.44 160.19,302.46 161.46,302.49 162.74,302.52 164.02,302.54 165.29,302.57 166.57,302.59 167.84,302.61 169.12,302.63 170.40,302.65 171.67,302.67 172.95,302.69 174.22,302.70 175.50,302.72" stroke="#a63628" stroke-width="1.1" fill="none"/>
<polyline points="47.90,250.39 49.18,251.77 50.45,253.10 51.73,254.39 53.00,255.63 54.28,256.82 55.56,257.96 56.83,259.07 58.11,260.13 59.38,261.16 60.66,262.15 61.94,263.10 63.21,264.01 64.49,264.90 65.76,265.75 67.04,266.56 68.32,267.35 69.59,268.11 70.87,268.84 72.14,269.55 73.42,270.23 74.70,270.88 75.97,271.51 77.25,272.12 78.52,272.70 79.80,273.26 81.08,273.81 82.35,274.33 83.63,274.83 84.90,275.31 86.18,275.78 87.46,276.23 88.73,276.66 90.01,277.08 91.28,277.48 92.56,277.87 93.84,278.24 95.11,278.60 96.39,278.94 97.66,279.28 98.94,279.60 100.22,279.91 101.49,280.20 102.77,280.49 104.04,280.77 105.32,281.03 106.60,281.29 107.87,281.54 109.15,281.77 110.42,282.00 111.70,282.22 112.98,282.43 114.25,282.64 115.53,282.84 116.80,283.03 118.08,283.21 119.36,283.38 120.63,283.55 121.91,283.72 123.18,283.87 124.46,284.02 125.74,284.17 127.01,284.31 128.29,284.45 129.56,284.58 130.84,284.70 132.12,284.82 133.39,284.94 134.67,285.05 135.94,285.16 137.22,285.26 138.50,285.36 139.77,285.46 141.05,285.55 142.32,285.64 143.60,285.73 144.88,285.81 146.15,285.89 147.43,285.97 148.70,286.04 149.98,286.12 151.26,286.18 152.53,286.25 153.81,286.32 155.08,286.38 156.36,286.44 157.64,286.49 158.91,286.55 160.19,286.60 161.46,286.65 162.74,286.70 164.02,286.75 165.29,286.79 166.57,286.84 167.84,286.88 169.12,286.92 170.40,286.96 171.67,287.00 172.95,287.03 174.22,287.07 175.50,287.10" stroke="#1d4c98" stroke-width="1.1" fill="none"/>
<circle cx="54.28" cy="267.53" r="1.85" fill="#ff5a26"/>
<circle cx="60.66" cy="273.93" r="1.85" fill="#ff5a26"/>
<circle cx="67.04" cy="280.39" r="1.85" fill="#ff5a26"/>
<circle cx="73.42" cy="286.63" r="1.85" fill="#ff5a26"/>
<circle cx="79.80" cy="293.40" r="1.85" fill="#ff5a26"/>
<circle cx="86.18" cy="295.51" r="1.85" fill="#ff5a26"/>
<circle cx="92.56" cy="296.79" r="1.85" fill="#ff5a26"/>
<circle cx="98.94" cy="298.59" r="1.85" fill="#ff5a26"/>
<circle cx="105.32" cy="303.18" r="1.85" fill="#ff5a26"/>
<circle cx="111.70" cy="306.11" r="1.85" fill="#ff5a26"/>
<circle cx="118.08" cy="304.91" r="1.85" fill="#ff5a26"/>
<circle cx="124.46" cy="302.50" r="1.85" fill="#ff5a26"/>
<circle cx="130.84" cy="300.40" r="1.85" fill="#ff5a26"/>
<circle cx="137.22" cy="298.22" r="1.85" fill="#ff5a26"/>
<circle cx="143.60" cy="297.69" r="1.85" fill="#ff5a26"/>
<circle cx="149.98" cy="297.31" r="1.85" fill="#ff5a26"/>
<circle cx="156.36" cy="298.22" r="1.85" fill="#ff5a26"/>
<circle cx="162.74" cy="299.57" r="1.85" fill="#ff5a26"/>
<circle cx="169.12" cy="300.62" r="1.85" fill="#ff5a26"/>
<circle cx="175.50" cy="301.67" r="1.85" fill="#ff5a26"/>
<circle cx="47.90" cy="254.90" r="1.85" fill="#1a84ff"/>
<circle cx="54.28" cy="260.62" r="1.85" fill="#1a84ff"/>
<circle cx="60.66" cy="263.32" r="1.85" fill="#1a84ff"/>
<circle cx="67.04" cy="265.88" r="1.85" fill="#1a84ff"/>
<circle cx="73.42" cy="268.74" r="1.85" fill="#1a84ff"/>
<circle cx="79.80" cy="269.71" r="1.85" fill="#1a84ff"/>
<circle cx="86.18" cy="270.62" r="1.85" fill="#1a84ff"/>
<circle cx="92.56" cy="272.27" r="1.85" fill="#1a84ff"/>
<circle cx="98.94" cy="274.38" r="1.85" fill="#1a84ff"/>
<circle cx="105.32" cy="276.11" r="1.85" fill="#1a84ff"/>
<circle cx="111.70" cy="277.84" r="1.85" fill="#1a84ff"/>
<circle cx="118.08" cy="279.72" r="1.85" fill="#1a84ff"/>
<circle cx="124.46" cy="281.60" r="1.85" fill="#1a84ff"/>
<circle cx="130.84" cy="283.33" r="1.85" fill="#1a84ff"/>
<circle cx="137.22" cy="285.21" r="1.85" fill="#1a84ff"/>
<circle cx="143.60" cy="287.01" r="1.85" fill="#1a84ff"/>
<circle cx="149.98" cy="288.66" r="1.85" fill="#1a84ff"/>
<circle cx="156.36" cy="290.77" r="1.85" fill="#1a84ff"/>
<circle cx="162.74" cy="292.50" r="1.85" fill="#1a84ff"/>
<circle cx="169.12" cy="293.93" r="1.85" fill="#1a84ff"/>
<circle cx="175.50" cy="295.13" r="1.85" fill="#1a84ff"/>
<text x="194.1" y="191.2" font-size="6.4" fill="#1ab8ee" stroke="#1ab8ee" stroke-width="0.1" font-weight="bold" textLength="56" lengthAdjust="spacingAndGlyphs">Decay of traffic fluxes</text>
<circle cx="199.7" cy="201.2" r="1.6" fill="#ff5a26"/>
<circle cx="199.7" cy="210.1" r="1.6" fill="#1a84ff"/>
<text x="210.0" y="202.90" font-size="6.25" fill="#dedfe6" stroke="#dedfe6" stroke-width="0.08" textLength="20.8" lengthAdjust="spacingAndGlyphs">highway</text>
<text x="210.0" y="211.5" font-size="6.25" fill="#dedfe6" stroke="#dedfe6" stroke-width="0.08" textLength="70.4" lengthAdjust="spacingAndGlyphs">arterial and residential road</text>
<text x="305.9" y="202.5" font-size="6.9" fill="#e04b24" stroke="#e04b24" stroke-width="0.02" textLength="50.4" lengthAdjust="spacingAndGlyphs"><tspan font-style="italic">α</tspan> = 0.40, <tspan font-style="italic">β</tspan> = 0.58</text>
<text x="305.9" y="210.6" font-size="6.9" fill="#e04b24" stroke="#e04b24" stroke-width="0.02" textLength="56" lengthAdjust="spacingAndGlyphs"><tspan font-style="italic">k</tspan> = 600m, <tspan font-style="italic">r</tspan><tspan font-size="4.2" dy="-2.4">2</tspan><tspan dy="2.4"> = 0.76</tspan></text>
<text x="305.9" y="222.0" font-size="6.9" fill="#1a5acc" stroke="#1a5acc" stroke-width="0.02" textLength="50.4" lengthAdjust="spacingAndGlyphs"><tspan font-style="italic">α</tspan> = 0.24, <tspan font-style="italic">β</tspan> = 0.93</text>
<text x="305.9" y="230.0" font-size="6.9" fill="#1a5acc" stroke="#1a5acc" stroke-width="0.02" textLength="56" lengthAdjust="spacingAndGlyphs"><tspan font-style="italic">k</tspan> = 800m, <tspan font-style="italic">r</tspan><tspan font-size="4.2" dy="-2.4">2</tspan><tspan dy="2.4"> = 0.28</tspan></text>
<path d="M218.5 231.3 V330.5 H359.5" stroke="#5e6172" stroke-width="1" fill="none"/>
<text x="216.6" y="332.8" font-size="6.4" fill="#dedfe6" stroke="#dedfe6" stroke-width="0.16" text-anchor="end">0.0</text>
<text x="216.6" y="317.8" font-size="6.4" fill="#dedfe6" stroke="#dedfe6" stroke-width="0.16" text-anchor="end">0.2</text>
<text x="216.6" y="302.7" font-size="6.4" fill="#dedfe6" stroke="#dedfe6" stroke-width="0.16" text-anchor="end">0.4</text>
<text x="216.6" y="287.7" font-size="6.4" fill="#dedfe6" stroke="#dedfe6" stroke-width="0.16" text-anchor="end">0.6</text>
<text x="216.6" y="272.6" font-size="6.4" fill="#dedfe6" stroke="#dedfe6" stroke-width="0.16" text-anchor="end">0.8</text>
<text x="216.6" y="257.6" font-size="6.4" fill="#dedfe6" stroke="#dedfe6" stroke-width="0.16" text-anchor="end">1.0</text>
<text x="216.6" y="242.6" font-size="6.4" fill="#dedfe6" stroke="#dedfe6" stroke-width="0.16" text-anchor="end">1.2</text>
<text x="225.2" y="337.2" font-size="6.4" fill="#dedfe6" stroke="#dedfe6" stroke-width="0.16" text-anchor="middle">0</text>
<text x="250.7" y="337.2" font-size="6.4" fill="#dedfe6" stroke="#dedfe6" stroke-width="0.16" text-anchor="middle">200</text>
<text x="276.2" y="337.2" font-size="6.4" fill="#dedfe6" stroke="#dedfe6" stroke-width="0.16" text-anchor="middle">400</text>
<text x="301.8" y="337.2" font-size="6.4" fill="#dedfe6" stroke="#dedfe6" stroke-width="0.16" text-anchor="middle">600</text>
<text x="327.3" y="337.2" font-size="6.4" fill="#dedfe6" stroke="#dedfe6" stroke-width="0.16" text-anchor="middle">800</text>
<text x="352.8" y="337.2" font-size="6.4" fill="#dedfe6" stroke="#dedfe6" stroke-width="0.16" text-anchor="middle">1000</text>
<text x="360.2" y="329.4" font-size="6.6" fill="#dcdce4" stroke="#dcdce4" stroke-width="0.08" textLength="5.4" lengthAdjust="spacingAndGlyphs">m</text>
<text x="0" y="0" font-size="6.5" fill="#dedfe6" stroke="#dedfe6" stroke-width="0.16" textLength="72" lengthAdjust="spacingAndGlyphs" transform="translate(202.2,321) rotate(-90)">Normalized Traffic Fluxes</text>
<polyline points="225.20,256.40 226.48,257.87 227.75,259.27 229.03,260.59 230.30,261.86 231.58,263.06 232.86,264.20 234.13,265.29 235.41,266.32 236.68,267.30 237.96,268.24 239.24,269.13 240.51,269.98 241.79,270.78 243.06,271.55 244.34,272.28 245.62,272.97 246.89,273.63 248.17,274.25 249.44,274.85 250.72,275.42 252.00,275.96 253.27,276.47 254.55,276.96 255.82,277.42 257.10,277.87 258.38,278.29 259.65,278.69 260.93,279.07 262.20,279.43 263.48,279.77 264.76,280.10 266.03,280.41 267.31,280.71 268.58,280.99 269.86,281.26 271.14,281.51 272.41,281.75 273.69,281.98 274.96,282.20 276.24,282.41 277.52,282.61 278.79,282.80 280.07,282.98 281.34,283.15 282.62,283.31 283.90,283.47 285.17,283.62 286.45,283.76 287.72,283.89 289.00,284.01 290.28,284.14 291.55,284.25 292.83,284.36 294.10,284.46 295.38,284.56 296.66,284.65 297.93,284.74 299.21,284.83 300.48,284.91 301.76,284.99 303.04,285.06 304.31,285.13 305.59,285.20 306.86,285.26 308.14,285.32 309.42,285.37 310.69,285.43 311.97,285.48 313.24,285.53 314.52,285.58 315.80,285.62 317.07,285.66 318.35,285.70 319.62,285.74 320.90,285.78 322.18,285.81 323.45,285.84 324.73,285.88 326.00,285.90 327.28,285.93 328.56,285.96 329.83,285.99 331.11,286.01 332.38,286.03 333.66,286.05 334.94,286.08 336.21,286.10 337.49,286.11 338.76,286.13 340.04,286.15 341.32,286.17 342.59,286.18 343.87,286.20 345.14,286.21 346.42,286.22 347.70,286.24 348.97,286.25 350.25,286.26 351.52,286.27 352.80,286.28" stroke="#a63628" stroke-width="1.1" fill="none"/>
<polyline points="225.20,242.12 226.48,242.78 227.75,243.42 229.03,244.04 230.30,244.63 231.58,245.20 232.86,245.75 234.13,246.28 235.41,246.79 236.68,247.29 237.96,247.76 239.24,248.22 240.51,248.66 241.79,249.08 243.06,249.49 244.34,249.88 245.62,250.26 246.89,250.62 248.17,250.97 249.44,251.31 250.72,251.64 252.00,251.95 253.27,252.25 254.55,252.55 255.82,252.83 257.10,253.10 258.38,253.36 259.65,253.61 260.93,253.85 262.20,254.08 263.48,254.30 264.76,254.52 266.03,254.73 267.31,254.93 268.58,255.12 269.86,255.31 271.14,255.49 272.41,255.66 273.69,255.82 274.96,255.98 276.24,256.14 277.52,256.29 278.79,256.43 280.07,256.57 281.34,256.70 282.62,256.83 283.90,256.95 285.17,257.07 286.45,257.18 287.72,257.29 289.00,257.40 290.28,257.50 291.55,257.60 292.83,257.69 294.10,257.78 295.38,257.87 296.66,257.95 297.93,258.04 299.21,258.11 300.48,258.19 301.76,258.26 303.04,258.33 304.31,258.40 305.59,258.46 306.86,258.53 308.14,258.59 309.42,258.65 310.69,258.70 311.97,258.75 313.24,258.81 314.52,258.86 315.80,258.90 317.07,258.95 318.35,259.00 319.62,259.04 320.90,259.08 322.18,259.12 323.45,259.16 324.73,259.20 326.00,259.23 327.28,259.27 328.56,259.30 329.83,259.33 331.11,259.36 332.38,259.39 333.66,259.42 334.94,259.45 336.21,259.47 337.49,259.50 338.76,259.52 340.04,259.55 341.32,259.57 342.59,259.59 343.87,259.61 345.14,259.63 346.42,259.65 347.70,259.67 348.97,259.69 350.25,259.71 351.52,259.72 352.80,259.74" stroke="#1d4c98" stroke-width="1.1" fill="none"/>
<circle cx="231.58" cy="261.89" r="1.85" fill="#ff5a26"/>
<circle cx="237.96" cy="266.41" r="1.85" fill="#ff5a26"/>
<circle cx="244.34" cy="271.59" r="1.85" fill="#ff5a26"/>
<circle cx="250.72" cy="277.08" r="1.85" fill="#ff5a26"/>
<circle cx="257.10" cy="282.57" r="1.85" fill="#ff5a26"/>
<circle cx="263.48" cy="283.78" r="1.85" fill="#ff5a26"/>
<circle cx="269.86" cy="284.68" r="1.85" fill="#ff5a26"/>
<circle cx="276.24" cy="285.88" r="1.85" fill="#ff5a26"/>
<circle cx="282.62" cy="287.09" r="1.85" fill="#ff5a26"/>
<circle cx="289.00" cy="288.14" r="1.85" fill="#ff5a26"/>
<circle cx="295.38" cy="286.11" r="1.85" fill="#ff5a26"/>
<circle cx="301.76" cy="281.82" r="1.85" fill="#ff5a26"/>
<circle cx="308.14" cy="277.84" r="1.85" fill="#ff5a26"/>
<circle cx="314.52" cy="274.00" r="1.85" fill="#ff5a26"/>
<circle cx="320.90" cy="278.21" r="1.85" fill="#ff5a26"/>
<circle cx="327.28" cy="282.50" r="1.85" fill="#ff5a26"/>
<circle cx="333.66" cy="287.01" r="1.85" fill="#ff5a26"/>
<circle cx="340.04" cy="289.72" r="1.85" fill="#ff5a26"/>
<circle cx="346.42" cy="290.77" r="1.85" fill="#ff5a26"/>
<circle cx="352.80" cy="291.67" r="1.85" fill="#ff5a26"/>
<circle cx="225.20" cy="254.90" r="1.85" fill="#1a84ff"/>
<circle cx="231.58" cy="251.52" r="1.85" fill="#1a84ff"/>
<circle cx="237.96" cy="249.64" r="1.85" fill="#1a84ff"/>
<circle cx="244.34" cy="247.91" r="1.85" fill="#1a84ff"/>
<circle cx="250.72" cy="246.03" r="1.85" fill="#1a84ff"/>
<circle cx="257.10" cy="244.82" r="1.85" fill="#1a84ff"/>
<circle cx="263.48" cy="243.39" r="1.85" fill="#1a84ff"/>
<circle cx="269.86" cy="244.37" r="1.85" fill="#1a84ff"/>
<circle cx="276.24" cy="246.48" r="1.85" fill="#1a84ff"/>
<circle cx="282.62" cy="249.11" r="1.85" fill="#1a84ff"/>
<circle cx="289.00" cy="251.29" r="1.85" fill="#1a84ff"/>
<circle cx="295.38" cy="253.77" r="1.85" fill="#1a84ff"/>
<circle cx="301.76" cy="256.10" r="1.85" fill="#1a84ff"/>
<circle cx="308.14" cy="258.28" r="1.85" fill="#1a84ff"/>
<circle cx="314.52" cy="260.92" r="1.85" fill="#1a84ff"/>
<circle cx="320.90" cy="263.10" r="1.85" fill="#1a84ff"/>
<circle cx="327.28" cy="265.20" r="1.85" fill="#1a84ff"/>
<circle cx="333.66" cy="267.83" r="1.85" fill="#1a84ff"/>
<circle cx="340.04" cy="270.39" r="1.85" fill="#1a84ff"/>
<circle cx="346.42" cy="271.97" r="1.85" fill="#1a84ff"/>
<circle cx="352.80" cy="273.70" r="1.85" fill="#1a84ff"/>
<text x="374.2" y="191.2" font-size="6.4" fill="#1ab8ee" stroke="#1ab8ee" stroke-width="0.1" font-weight="bold" textLength="70" lengthAdjust="spacingAndGlyphs">Decay of vehicle categories</text>
<circle cx="378.5" cy="201.2" r="1.6" fill="#ff5a26"/>
<circle cx="378.5" cy="210.1" r="1.6" fill="#1a84ff"/>
<text x="389.1" y="202.90" font-size="6.25" fill="#dedfe6" stroke="#dedfe6" stroke-width="0.08" textLength="20.8" lengthAdjust="spacingAndGlyphs">highway</text>
<text x="389.1" y="211.5" font-size="6.25" fill="#dedfe6" stroke="#dedfe6" stroke-width="0.08" textLength="70.4" lengthAdjust="spacingAndGlyphs">arterial and residential road</text>
<text x="479.2" y="202.5" font-size="6.9" fill="#e04b24" stroke="#e04b24" stroke-width="0.02" textLength="50.4" lengthAdjust="spacingAndGlyphs"><tspan font-style="italic">α</tspan> = 0.37, <tspan font-style="italic">β</tspan> = 0.55</text>
<text x="479.2" y="210.6" font-size="6.9" fill="#e04b24" stroke="#e04b24" stroke-width="0.02" textLength="56" lengthAdjust="spacingAndGlyphs"><tspan font-style="italic">k</tspan> = 600m, <tspan font-style="italic">r</tspan><tspan font-size="4.2" dy="-2.4">2</tspan><tspan dy="2.4"> = 0.55</tspan></text>
<text x="479.2" y="222.0" font-size="6.9" fill="#1a5acc" stroke="#1a5acc" stroke-width="0.02" textLength="50.4" lengthAdjust="spacingAndGlyphs"><tspan font-style="italic">α</tspan> = 0.55, <tspan font-style="italic">β</tspan> = 0.35</text>
<text x="479.2" y="230.0" font-size="6.9" fill="#1a5acc" stroke="#1a5acc" stroke-width="0.02" textLength="56" lengthAdjust="spacingAndGlyphs"><tspan font-style="italic">k</tspan> = 800m, <tspan font-style="italic">r</tspan><tspan font-size="4.2" dy="-2.4">2</tspan><tspan dy="2.4"> = 0.94</tspan></text>
<path d="M396.5 231.3 V330.5 H536.6" stroke="#5e6172" stroke-width="1" fill="none"/>
<text x="393.7" y="332.8" font-size="6.4" fill="#dedfe6" stroke="#dedfe6" stroke-width="0.16" text-anchor="end">0.0</text>
<text x="393.7" y="317.8" font-size="6.4" fill="#dedfe6" stroke="#dedfe6" stroke-width="0.16" text-anchor="end">0.2</text>
<text x="393.7" y="302.7" font-size="6.4" fill="#dedfe6" stroke="#dedfe6" stroke-width="0.16" text-anchor="end">0.4</text>
<text x="393.7" y="287.7" font-size="6.4" fill="#dedfe6" stroke="#dedfe6" stroke-width="0.16" text-anchor="end">0.6</text>
<text x="393.7" y="272.6" font-size="6.4" fill="#dedfe6" stroke="#dedfe6" stroke-width="0.16" text-anchor="end">0.8</text>
<text x="393.7" y="257.6" font-size="6.4" fill="#dedfe6" stroke="#dedfe6" stroke-width="0.16" text-anchor="end">1.0</text>
<text x="393.7" y="242.6" font-size="6.4" fill="#dedfe6" stroke="#dedfe6" stroke-width="0.16" text-anchor="end">1.2</text>
<text x="402.3" y="337.2" font-size="6.4" fill="#dedfe6" stroke="#dedfe6" stroke-width="0.16" text-anchor="middle">0</text>
<text x="427.8" y="337.2" font-size="6.4" fill="#dedfe6" stroke="#dedfe6" stroke-width="0.16" text-anchor="middle">200</text>
<text x="453.3" y="337.2" font-size="6.4" fill="#dedfe6" stroke="#dedfe6" stroke-width="0.16" text-anchor="middle">400</text>
<text x="478.9" y="337.2" font-size="6.4" fill="#dedfe6" stroke="#dedfe6" stroke-width="0.16" text-anchor="middle">600</text>
<text x="504.4" y="337.2" font-size="6.4" fill="#dedfe6" stroke="#dedfe6" stroke-width="0.16" text-anchor="middle">800</text>
<text x="529.9" y="337.2" font-size="6.4" fill="#dedfe6" stroke="#dedfe6" stroke-width="0.16" text-anchor="middle">1000</text>
<text x="537.3" y="329.4" font-size="6.6" fill="#dcdce4" stroke="#dcdce4" stroke-width="0.08" textLength="5.4" lengthAdjust="spacingAndGlyphs">m</text>
<text x="0" y="0" font-size="5.8" fill="#dedfe6" stroke="#dedfe6" stroke-width="0.16" textLength="95.5" lengthAdjust="spacingAndGlyphs" transform="translate(380.3,332.5) rotate(-90)">Normalized Vehicle category proportions</text>
<polyline points="402.30,260.92 403.58,262.27 404.85,263.56 406.13,264.79 407.40,265.96 408.68,267.07 409.96,268.13 411.23,269.13 412.51,270.09 413.78,271.00 415.06,271.86 416.34,272.69 417.61,273.47 418.89,274.21 420.16,274.92 421.44,275.60 422.72,276.24 423.99,276.85 425.27,277.43 426.54,277.98 427.82,278.50 429.10,279.00 430.37,279.48 431.65,279.93 432.92,280.36 434.20,280.77 435.48,281.16 436.75,281.53 438.03,281.88 439.30,282.21 440.58,282.53 441.86,282.83 443.13,283.12 444.41,283.40 445.68,283.66 446.96,283.90 448.24,284.14 449.51,284.37 450.79,284.58 452.06,284.78 453.34,284.97 454.62,285.16 455.89,285.33 457.17,285.50 458.44,285.66 459.72,285.81 461.00,285.95 462.27,286.09 463.55,286.22 464.82,286.34 466.10,286.46 467.38,286.57 468.65,286.67 469.93,286.77 471.20,286.87 472.48,286.96 473.76,287.05 475.03,287.13 476.31,287.21 477.58,287.28 478.86,287.35 480.14,287.42 481.41,287.49 482.69,287.55 483.96,287.61 485.24,287.66 486.52,287.71 487.79,287.76 489.07,287.81 490.34,287.86 491.62,287.90 492.90,287.94 494.17,287.98 495.45,288.02 496.72,288.05 498.00,288.09 499.28,288.12 500.55,288.15 501.83,288.18 503.10,288.20 504.38,288.23 505.66,288.26 506.93,288.28 508.21,288.30 509.48,288.32 510.76,288.34 512.04,288.36 513.31,288.38 514.59,288.40 515.86,288.42 517.14,288.43 518.42,288.45 519.69,288.46 520.97,288.47 522.24,288.49 523.52,288.50 524.80,288.51 526.07,288.52 527.35,288.53 528.62,288.54 529.90,288.55" stroke="#a63628" stroke-width="1.1" fill="none"/>
<polyline points="402.30,262.42 403.58,263.94 404.85,265.41 406.13,266.82 407.40,268.18 408.68,269.49 409.96,270.75 411.23,271.97 412.51,273.14 413.78,274.27 415.06,275.35 416.34,276.40 417.61,277.41 418.89,278.38 420.16,279.31 421.44,280.21 422.72,281.08 423.99,281.92 425.27,282.72 426.54,283.50 427.82,284.24 429.10,284.96 430.37,285.65 431.65,286.32 432.92,286.96 434.20,287.58 435.48,288.18 436.75,288.75 438.03,289.31 439.30,289.84 440.58,290.35 441.86,290.85 443.13,291.32 444.41,291.78 445.68,292.22 446.96,292.65 448.24,293.06 449.51,293.45 450.79,293.83 452.06,294.20 453.34,294.55 454.62,294.89 455.89,295.22 457.17,295.53 458.44,295.84 459.72,296.13 461.00,296.41 462.27,296.68 463.55,296.94 464.82,297.19 466.10,297.44 467.38,297.67 468.65,297.90 469.93,298.11 471.20,298.32 472.48,298.52 473.76,298.72 475.03,298.90 476.31,299.08 477.58,299.25 478.86,299.42 480.14,299.58 481.41,299.74 482.69,299.88 483.96,300.03 485.24,300.17 486.52,300.30 487.79,300.43 489.07,300.55 490.34,300.67 491.62,300.78 492.90,300.89 494.17,301.00 495.45,301.10 496.72,301.20 498.00,301.30 499.28,301.39 500.55,301.48 501.83,301.56 503.10,301.64 504.38,301.72 505.66,301.80 506.93,301.87 508.21,301.94 509.48,302.01 510.76,302.07 512.04,302.14 513.31,302.20 514.59,302.25 515.86,302.31 517.14,302.36 518.42,302.42 519.69,302.47 520.97,302.52 522.24,302.56 523.52,302.61 524.80,302.65 526.07,302.69 527.35,302.73 528.62,302.77 529.90,302.81" stroke="#1d4c98" stroke-width="1.1" fill="none"/>
<circle cx="408.68" cy="268.51" r="1.85" fill="#ff5a26"/>
<circle cx="415.06" cy="273.32" r="1.85" fill="#ff5a26"/>
<circle cx="421.44" cy="277.54" r="1.85" fill="#ff5a26"/>
<circle cx="427.82" cy="281.52" r="1.85" fill="#ff5a26"/>
<circle cx="434.20" cy="285.28" r="1.85" fill="#ff5a26"/>
<circle cx="440.58" cy="284.90" r="1.85" fill="#ff5a26"/>
<circle cx="446.96" cy="282.20" r="1.85" fill="#ff5a26"/>
<circle cx="453.34" cy="281.30" r="1.85" fill="#ff5a26"/>
<circle cx="459.72" cy="291.82" r="1.85" fill="#ff5a26"/>
<circle cx="466.10" cy="296.34" r="1.85" fill="#ff5a26"/>
<circle cx="472.48" cy="295.88" r="1.85" fill="#ff5a26"/>
<circle cx="478.86" cy="296.11" r="1.85" fill="#ff5a26"/>
<circle cx="485.24" cy="296.34" r="1.85" fill="#ff5a26"/>
<circle cx="491.62" cy="296.64" r="1.85" fill="#ff5a26"/>
<circle cx="498.00" cy="289.42" r="1.85" fill="#ff5a26"/>
<circle cx="504.38" cy="281.82" r="1.85" fill="#ff5a26"/>
<circle cx="510.76" cy="277.61" r="1.85" fill="#ff5a26"/>
<circle cx="517.14" cy="277.31" r="1.85" fill="#ff5a26"/>
<circle cx="523.52" cy="278.66" r="1.85" fill="#ff5a26"/>
<circle cx="529.90" cy="280.02" r="1.85" fill="#ff5a26"/>
<circle cx="402.30" cy="254.90" r="1.85" fill="#1a84ff"/>
<circle cx="408.68" cy="268.51" r="1.85" fill="#1a84ff"/>
<circle cx="415.06" cy="275.13" r="1.85" fill="#1a84ff"/>
<circle cx="421.44" cy="281.52" r="1.85" fill="#1a84ff"/>
<circle cx="427.82" cy="287.99" r="1.85" fill="#1a84ff"/>
<circle cx="434.20" cy="291.30" r="1.85" fill="#1a84ff"/>
<circle cx="440.58" cy="294.61" r="1.85" fill="#1a84ff"/>
<circle cx="446.96" cy="296.49" r="1.85" fill="#1a84ff"/>
<circle cx="453.34" cy="296.79" r="1.85" fill="#1a84ff"/>
<circle cx="459.72" cy="297.16" r="1.85" fill="#1a84ff"/>
<circle cx="466.10" cy="297.69" r="1.85" fill="#1a84ff"/>
<circle cx="472.48" cy="298.22" r="1.85" fill="#1a84ff"/>
<circle cx="478.86" cy="298.52" r="1.85" fill="#1a84ff"/>
<circle cx="485.24" cy="298.89" r="1.85" fill="#1a84ff"/>
<circle cx="491.62" cy="299.42" r="1.85" fill="#1a84ff"/>
<circle cx="498.00" cy="299.94" r="1.85" fill="#1a84ff"/>
<circle cx="504.38" cy="300.10" r="1.85" fill="#1a84ff"/>
<circle cx="510.76" cy="300.10" r="1.85" fill="#1a84ff"/>
<circle cx="517.14" cy="299.94" r="1.85" fill="#1a84ff"/>
<circle cx="523.52" cy="299.57" r="1.85" fill="#1a84ff"/>
<circle cx="529.90" cy="299.42" r="1.85" fill="#1a84ff"/>
</svg></body></html>
